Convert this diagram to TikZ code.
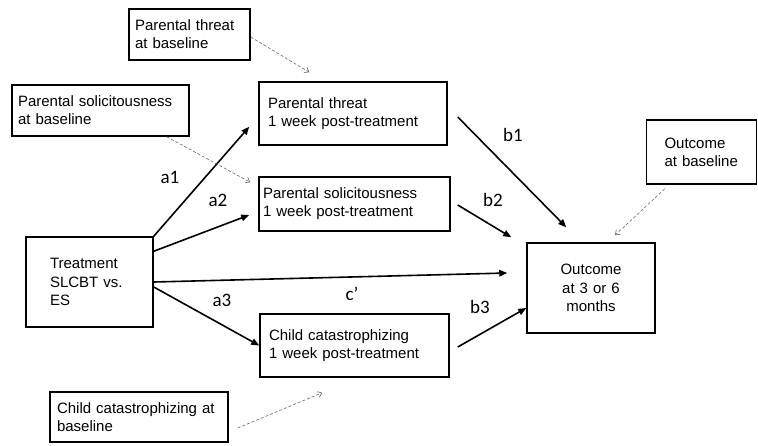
\documentclass[tikz,border=0pt]{standalone}
\usepackage{fontspec}
\setmainfont{Liberation Sans}
\newfontfamily\lblfont{Carlito}
\usetikzlibrary{arrows.meta,calc}
\begin{document}
\begin{tikzpicture}[x=1pt,y=-1pt,
  box/.style={draw,line width=1.5pt,inner ysep=0pt,font=\fontsize{15}{18.2}\selectfont},
  arr/.style={line width=1.6pt,-{Triangle[length=8pt,width=6.5pt]}},
  darr/.style={draw=black!60,line width=0.6pt,dash pattern=on 3pt off 2pt,-{Straight Barb[length=4pt,width=6pt]}},
  lbl/.style={font=\lblfont\fontsize{19}{22}\selectfont,inner sep=0pt}]
\useasboundingbox (0,0) rectangle (758,445);
% boxes: centre = (x+W/2, y+H/2)
\node[box,minimum width=121pt,minimum height=51pt,inner xsep=6pt,text width=109pt,align=left] (ptb) at (189.5,34.5) {Parental threat\\at baseline};
\node[box,minimum width=177pt,minimum height=51pt,inner xsep=6pt,text width=165pt,align=left] (psb) at (100.5,110.5) {Parental solicitousness\\at baseline};
\node[box,minimum width=188pt,minimum height=63pt,inner xsep=9pt,text width=170pt,align=left] (pt1) at (353,113.5) {Parental threat\\1 week post-treatment};
\node[box,minimum width=191pt,minimum height=54pt,inner xsep=4pt,text width=183pt,align=left] (ps1) at (354.5,204) {Parental solicitousness\\1 week post-treatment};
\node[box,minimum width=127pt,minimum height=90pt,inner xsep=24pt,text width=79pt,align=left] (tr) at (89.5,282) {Treatment\\SLCBT vs.\\ES};
\node[box,minimum width=189pt,minimum height=63pt,inner xsep=9pt,text width=171pt,align=left] (cc1) at (354.5,345.5) {Child catastrophizing\\1 week post-treatment};
\node[box,minimum width=178pt,minimum height=50pt,inner xsep=7pt,text width=164pt,align=left] (ccb) at (139,417) {Child catastrophizing at\\baseline};
\node[box,minimum width=128pt,minimum height=90pt,inner xsep=6pt,text width=116pt,align=center] (out) at (591,288) {Outcome\\at 3 or 6\\months};
\node[box,minimum width=110pt,minimum height=64pt,inner xsep=18pt,text width=74pt,align=left] (ob) at (701.5,152) {Outcome\\at baseline};
% solid paths
\draw[arr] (tr.north east) -- ($(pt1.south west)+(-9,-19)$);
\draw[arr] ($(tr.north east)+(0,15)$) -- ($(ps1.west)+(-9,11)$);
\draw[arr] (tr.east) -- ($(out.west)+(-19,-15)$);
\draw[arr] ($(tr.east)+(0,5)$) -- (cc1.west);
\draw[arr] ($(pt1.east)+(10,3.5)$) -- ($(out.north west)+(40,-15)$);
\draw[arr] ($(ps1.east)+(7,1)$) -- ($(out.north west)+(-15,-5)$);
\draw[arr] ($(cc1.east)+(8,1.5)$) -- ($(out.west)+(0,20)$);
% dashed covariate paths
\draw[darr] ($(ptb.east)+(0,2.5)$) -- ($(pt1.north west)+(51,-9)$);
\draw[darr] ($(psb.south east)+(-23,0)$) -- ($(ps1.north west)+(-8,6)$);
\draw[darr] ($(ccb.east)+(9,11)$) -- ($(cc1.south west)+(63,15)$);
\draw[darr] ($(ob.south west)+(19,4)$) -- ($(out.north)+(24,-7)$);
% labels
\node[lbl] (la1) at (170,177) {a1};
\node[lbl] (la2) at (218,200) {a2};
\node[lbl] (la3) at (222,300) {a3};
\node[lbl] (lc) at (352,294) {c’};
\node[lbl] (lb1) at (513,135) {b1};
\node[lbl] (lb2) at (493,200) {b2};
\node[lbl] (lb3) at (480,307) {b3};
\end{tikzpicture}
\end{document}
